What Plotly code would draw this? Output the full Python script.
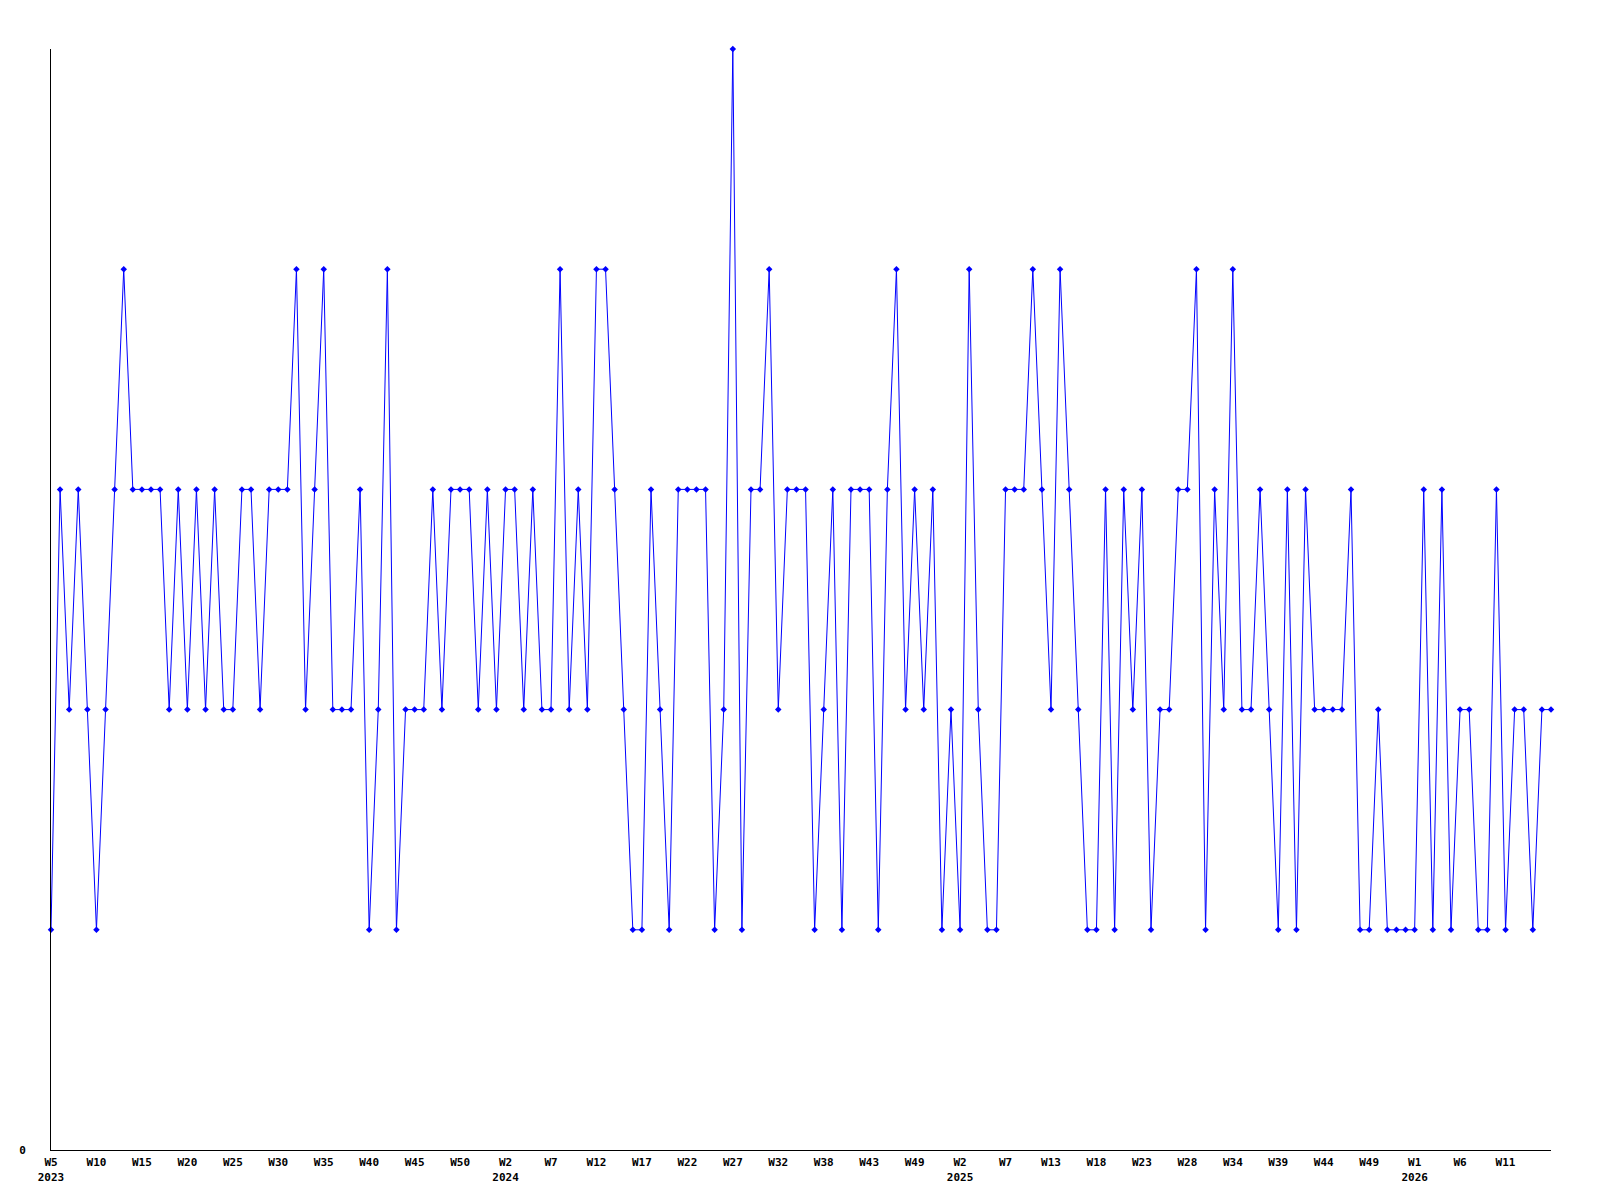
"""Weekly count line chart (2023 W5 – 2026), one point per week, index-based x axis."""
import plotly.graph_objects as go

# weekly values (one per data point)
values = [
    1, 3, 2, 3, 2, 1, 2, 3, 4, 3, 3, 3, 3, 2, 3, 2, 3, 2, 3, 2, 2, 3, 3, 2,
    3, 3, 3, 4, 2, 3, 4, 2, 2, 2, 3, 1, 2, 4, 1, 2, 2, 2, 3, 2, 3, 3, 3, 2,
    3, 2, 3, 3, 2, 3, 2, 2, 4, 2, 3, 2, 4, 4, 3, 2, 1, 1, 3, 2, 1, 3, 3, 3,
    3, 1, 2, 5, 1, 3, 3, 4, 2, 3, 3, 3, 1, 2, 3, 1, 3, 3, 3, 1, 3, 4, 2, 3,
    2, 3, 1, 2, 1, 4, 2, 1, 1, 3, 3, 3, 4, 3, 2, 4, 3, 2, 1, 1, 3, 1, 3, 2,
    3, 1, 2, 2, 3, 3, 4, 1, 3, 2, 4, 2, 2, 3, 2, 1, 3, 1, 3, 2, 2, 2, 2, 3,
    1, 1, 2, 1, 1, 1, 1, 3, 1, 3, 1, 2, 2, 1, 1, 3, 1, 2, 2, 1, 2, 2,
]

# a label every 5th point
tick_weeks = [
    "W5", "W10", "W15", "W20", "W25", "W30", "W35", "W40", "W45", "W50",
    "W2", "W7", "W12", "W17", "W22", "W27", "W32", "W38", "W43", "W49",
    "W2", "W7", "W13", "W18", "W23", "W28", "W34", "W39", "W44", "W49",
    "W1", "W6", "W11",
]
tick_years = [
    "2023", "", "", "", "", "", "", "", "", "",
    "2024", "", "", "", "", "", "", "", "", "",
    "2025", "", "", "", "", "", "", "", "", "",
    "2026", "", "",
]

x = list(range(len(values)))
tickvals = x[::5][:len(tick_weeks)]
ticktext = [f"{w}<br>{y}" if y else w for w, y in zip(tick_weeks, tick_years)]

FONT = dict(family="DejaVu Sans Mono", size=11, color="#000000", weight="bold")

fig = go.Figure(go.Scatter(
    x=x, y=values, mode="lines+markers", cliponaxis=False,
    line=dict(color="#0000FF", width=1),
    marker=dict(symbol="diamond", size=5, color="#0000FF"),
    showlegend=False,
))

# page body has an 8px margin, so the figure is sized/offset to land the plot
# area at x 50..1551, y 49..1150 of the window
fig.update_layout(
    width=1584, height=1184,
    margin=dict(l=43, r=41, t=41, b=42),
    paper_bgcolor="#FFFFFF", plot_bgcolor="#FFFFFF",
    xaxis=dict(range=[0, len(values) - 1], tickvals=tickvals, ticktext=ticktext,
               showgrid=False, zeroline=False, showline=True, linecolor="#000000",
               linewidth=1, ticks="", tickfont=FONT, ticklabelstandoff=2,
               automargin=False),
    yaxis=dict(range=[0, 5], tickvals=[0], ticktext=["0"],
               showgrid=False, zeroline=False, showline=True, linecolor="#000000",
               linewidth=1, ticks="", tickfont=FONT, ticklabelstandoff=22,
               automargin=False),
)

fig.write_html("out.html")
